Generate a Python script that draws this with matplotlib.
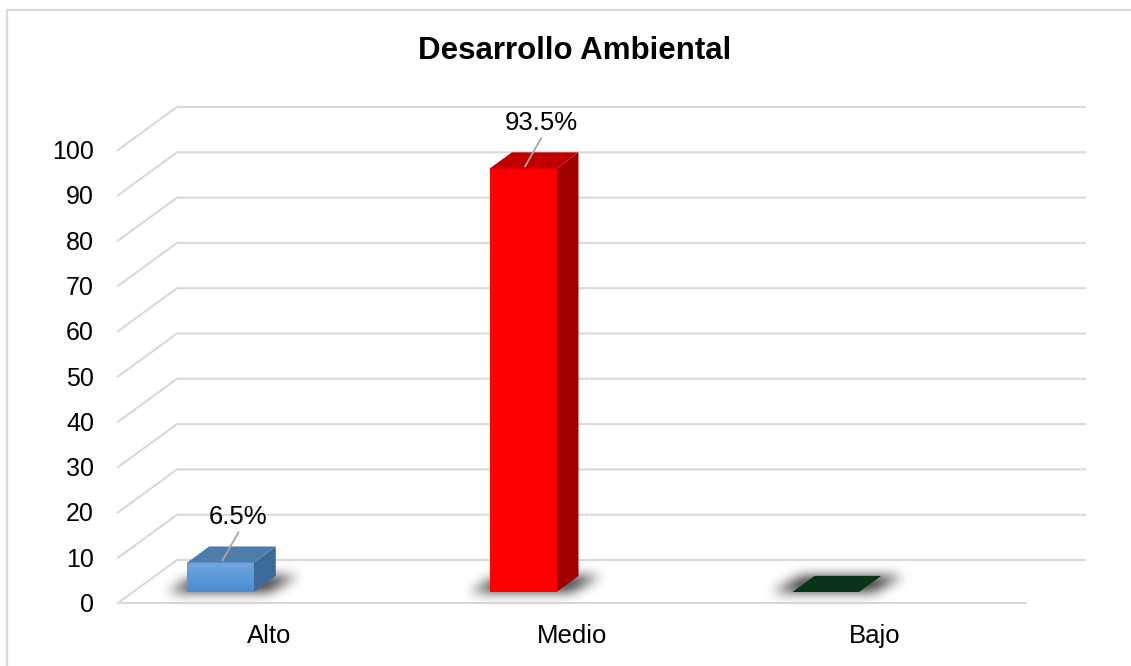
import numpy as np
import matplotlib
matplotlib.use("Agg")
import matplotlib.pyplot as plt
from matplotlib.patches import Polygon, Rectangle
from matplotlib.lines import Line2D
from matplotlib.path import Path
from matplotlib.colors import to_rgb

plt.rcParams['font.family'] = ['Liberation Sans', 'DejaVu Sans']

# data
title = "Desarrollo Ambiental"
categories = ["Alto", "Medio", "Bajo"]
values = [6.5, 93.5, 0.0]
value_labels = ["6.5%", "93.5%", ""]
yticks = list(range(0, 101, 10))

# face colours: front top, front bottom, top face, side face
face_colors = [
    ("#70a8e0", "#4a8bd0", "#4f7dab", "#3d6b99"),
    ("#ff0000", "#ff0000", "#c00000", "#a00000"),
    ("#0b3318", "#0b3318", "#0b3318", "#082812"),
]

W, H = 1131, 666
fig = plt.figure(figsize=(W / 100, H / 100), dpi=100)

# background layer in display pixels (y up)
bg = fig.add_axes([0, 0, 1, 1])
bg.set_xlim(0, W)
bg.set_ylim(0, H)
bg.axis('off')

# front plane of the 3d box: categories on x, values on y
ax = fig.add_axes([118 / W, (H - 603) / H, 908 / W, 453 / H])
ax.set_xlim(-0.5, 2.5)
ax.set_ylim(0, 100)
ax.axis('off')
ax.patch.set_visible(False)

DEPTH = np.array([59.0, 43.0])   # pixel offset of the back wall
BAR_D0, BAR_D1 = 0.256, 0.63     # bar depth (front / back)
BAR_SHIFT = -64.0                # bars sit left of the category centre
BAR_W = 0.22
GRID = "#d9d9d9"


def to_px(x, v, d=0.0, shift=0.0):
    p = ax.transData.transform((x, v))
    return p + DEPTH * d + np.array([shift, 0.0])


# chart border (only left and top edges fall inside the canvas)
bg.add_patch(Rectangle((7, -20), W + 40, H - 10 + 20, fill=False,
                       edgecolor=GRID, lw=1.6, zorder=1))

# gridlines: diagonal on the side wall then across the back wall
for v in yticks:
    pts = np.array([to_px(-0.5, v, 0), to_px(-0.5, v, 1), to_px(2.5, v, 1)])
    bg.add_line(Line2D(pts[:, 0], pts[:, 1], color=GRID, lw=1.5, zorder=2))
pts = np.array([to_px(-0.5, 0, 0), to_px(2.5, 0, 0)])
bg.add_line(Line2D(pts[:, 0], pts[:, 1], color=GRID, lw=1.5, zorder=2))

# soft floor shadows under every bar
gx, gy = np.meshgrid(np.arange(W) + 0.5, np.arange(H) + 0.5)
grid_pts = np.column_stack([gx.ravel(), gy.ravel()])
mask = np.zeros(W * H)
for i in range(len(categories)):
    x0, x1 = i - BAR_W / 2, i + BAR_W / 2
    fl = to_px(x0, 0, BAR_D0, BAR_SHIFT) + [-20, 0]
    fr = to_px(x1, 0, BAR_D0, BAR_SHIFT) + [14, 0]
    br = to_px(x1, 0, BAR_D1, BAR_SHIFT) + [22, 0]
    bl = to_px(x0, 0, BAR_D1, BAR_SHIFT) + [-12, 0]
    mask += Path([fl, fr, br, bl]).contains_points(grid_pts)
mask = mask.reshape(H, W)
k = np.arange(-18, 19)
kern = np.exp(-k ** 2 / (2 * 6.0 ** 2))
kern /= kern.sum()
mask = np.apply_along_axis(lambda r: np.convolve(r, kern, mode='same'), 1, mask)
mask = np.apply_along_axis(lambda c: np.convolve(c, kern, mode='same'), 0, mask)
shadow = np.zeros((H, W, 4))
shadow[..., 3] = np.clip(mask, 0, 1) * 0.8
bg.imshow(shadow, extent=(0, W, 0, H), origin='lower', zorder=3,
          interpolation='bilinear', aspect='auto')

# bars
for i, v in enumerate(values):
    c_top, c_bot, c_lid, c_side = face_colors[i]
    x0, x1 = i - BAR_W / 2, i + BAR_W / 2
    fl0 = to_px(x0, 0, BAR_D0, BAR_SHIFT)
    fr0 = to_px(x1, 0, BAR_D0, BAR_SHIFT)
    flv = to_px(x0, v, BAR_D0, BAR_SHIFT)
    frv = to_px(x1, v, BAR_D0, BAR_SHIFT)
    br0 = to_px(x1, 0, BAR_D1, BAR_SHIFT)
    brv = to_px(x1, v, BAR_D1, BAR_SHIFT)
    blv = to_px(x0, v, BAR_D1, BAR_SHIFT)
    if v > 0:
        bg.add_patch(Polygon([fr0, br0, brv, frv], closed=True,
                             facecolor=c_side, edgecolor='none', zorder=4))
        # vertical gradient on the front face
        t = np.linspace(0, 1, 64)[:, None]
        grad = (1 - t) * np.array(to_rgb(c_bot)) + t * np.array(to_rgb(c_top))
        bg.imshow(grad[:, None, :].repeat(2, axis=1),
                  extent=(fl0[0], fr0[0], fl0[1], flv[1]), origin='lower',
                  aspect='auto', zorder=5, interpolation='bilinear')
    bg.add_patch(Polygon([flv, frv, brv, blv], closed=True,
                         facecolor=c_lid, edgecolor='none', zorder=5))

    if value_labels[i]:
        start = to_px(i - 0.003, v, BAR_D0 + 0.05, BAR_SHIFT)
        end = start + np.array([16, 28])
        bg.add_line(Line2D([start[0], end[0]], [start[1], end[1]],
                           color="#a6a6a6", lw=1.3, zorder=6))
        bg.text(end[0], end[1] + 8, value_labels[i], ha='center',
                va='baseline', fontsize=18.5, color='black', zorder=7)

# value axis labels
for v in yticks:
    p = to_px(-0.5, v, 0)
    bg.text(p[0] - 24, p[1] - 9, str(v), ha='right', va='baseline',
            fontsize=18, color='black')

# category labels
for i, c in enumerate(categories):
    p = to_px(i, 0, 0)
    bg.text(p[0], p[1] - 40, c, ha='center', va='baseline',
            fontsize=18.5, color='black')

bg.text(575, H - 59, title, ha='center', va='baseline', fontsize=22.5,
        fontweight='bold', color='black')

fig.savefig("out.png", dpi=100)
